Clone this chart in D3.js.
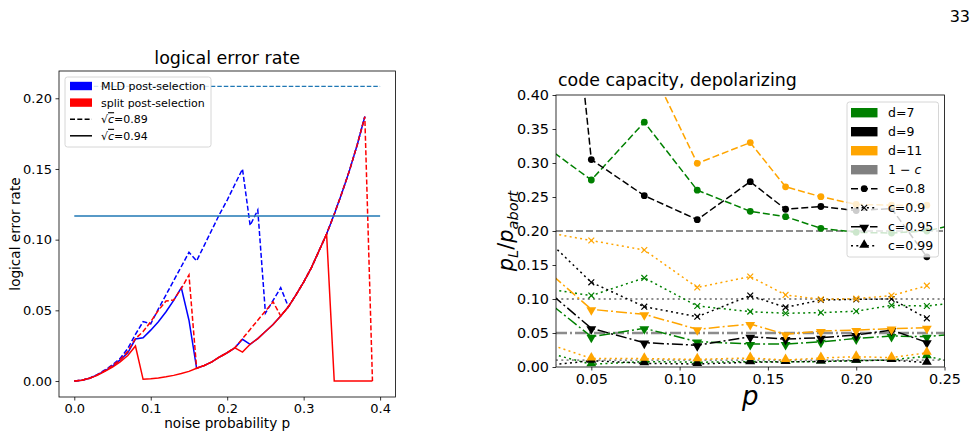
<!DOCTYPE html>
<html>
<head>
<meta charset="utf-8">
<script src="https://cdn.jsdelivr.net/npm/d3@7"></script>
<style>
  body { margin: 0; background: #fff; }
  svg text { font-family: "DejaVu Sans", sans-serif; fill: #000; }
</style>
</head>
<body>
<svg id="fig" width="979" height="439"></svg>
<script>
// ---- left panel data: logical error rate vs noise probability ----
const pNoise = [0, 0.01, 0.02, 0.03, 0.04, 0.05, 0.06, 0.07, 0.08, 0.09,
  0.10, 0.11, 0.12, 0.13, 0.14, 0.15, 0.16, 0.17, 0.18, 0.19,
  0.20, 0.21, 0.22, 0.23, 0.24, 0.25, 0.26, 0.27, 0.28, 0.29,
  0.30, 0.31, 0.32, 0.33, 0.34, 0.35, 0.36, 0.37, 0.38, 0.39];
const mldSqrtC089 = [0, 0.0005, 0.002, 0.0045, 0.0078, 0.0115, 0.016, 0.023, 0.033, 0.042,
  0.0405, 0.051, 0.061, 0.071, 0.081, 0.091, 0.085, 0.096, 0.107, 0.118,
  0.128, 0.139, 0.150, 0.110, 0.121, 0.048, 0.057, 0.066, 0.0525, 0.061,
  0.070, 0.080, 0.092, 0.104, 0.118, 0.133, 0.149, 0.167, 0.187];
const mldSqrtC094 = [0, 0.0005, 0.002, 0.0043, 0.0072, 0.0105, 0.015, 0.020, 0.0297, 0.0306,
  0.036, 0.042, 0.049, 0.057, 0.066, 0.043, 0.009, 0.011, 0.0135, 0.017,
  0.020, 0.0235, 0.0295, 0.026, 0.030, 0.035, 0.040, 0.046, 0.0525, 0.061,
  0.070, 0.080, 0.092, 0.104, 0.118, 0.133, 0.149, 0.167, 0.187];
const splitSqrtC089 = [0, 0.0005, 0.002, 0.0043, 0.0073, 0.011, 0.015, 0.021, 0.030, 0.035,
  0.042, 0.050, 0.0566, 0.0573, 0.0655, 0.075, 0.009, 0.011, 0.0135, 0.017,
  0.020, 0.0235, 0.030, 0.0365, 0.043, 0.0495, 0.056, 0.046, 0.0525, 0.061,
  0.070, 0.080, 0.092, 0.104, 0.118, 0.133, 0.149, 0.167, 0.187, 0];
const splitSqrtC094 = [0, 0.0005, 0.0019, 0.004, 0.0068, 0.0098, 0.0135, 0.018, 0.0248, 0.0012,
  0.0016, 0.0022, 0.003, 0.004, 0.0053, 0.0068, 0.009, 0.011, 0.0135, 0.017,
  0.020, 0.0235, 0.0205, 0.026, 0.030, 0.035, 0.040, 0.046, 0.0525, 0.061,
  0.070, 0.080, 0.092, 0.104, 0, 0, 0, 0, 0, 0];
const thresholdLevels = [0.2084, 0.1167];
const thresholdSpan = [0, 0.4];
const leftXTicks = [0, 0.1, 0.2, 0.3, 0.4];
const leftYTicks = [0, 0.05, 0.10, 0.15, 0.20];

// ---- right panel data: p_L / p_abort, code capacity ----
const pCode = [0.02, 0.05, 0.08, 0.11, 0.14, 0.16, 0.18, 0.20, 0.22, 0.24, 0.26];
const distLabels = ['d=7', 'd=9', 'd=11'];
const cLabels = ['c=0.8', 'c=0.9', 'c=0.95', 'c=0.99'];
const oneMinusC = [0.2, 0.1, 0.05, 0.01];
const d7c080 = [0.332, 0.275, 0.360, 0.260, 0.229, 0.221, 0.204, 0.198, 0.197, 0.200, 0.212];
const d7c090 = [0.117, 0.105, 0.131, 0.0897, 0.0814, 0.079, 0.080, 0.082, 0.0907, 0.0897, 0.0955];
const d7c095 = [0.107, 0.0446, 0.0569, 0.0373, 0.0338, 0.0338, 0.037, 0.042, 0.0456, 0.0446, 0.0494];
const d7c099 = [0.0244, 0.004, 0.008, 0.007, 0.008, 0.0075, 0.008, 0.0093, 0.0103, 0.016, 0.004];
const d9c080 = [1.054, 0.305, 0.252, 0.2167, 0.2725, 0.232, 0.236, 0.230, 0.233, 0.162, null];
const d9c090 = [0.1995, 0.1245, 0.0887, 0.074, 0.105, 0.0877, 0.0985, 0.0995, 0.100, 0.0716, null];
const d9c095 = [0.123, 0.0569, 0.0358, 0.0319, 0.0446, 0.041, 0.0431, 0.047, 0.0544, 0.0363, null];
const d9c099 = [0.001, 0.0093, 0.0054, 0.0044, 0.007, 0.0075, 0.0083, 0.0093, 0.0103, 0.0064, null];
const d11c080 = [0.62, 0.55, 0.461, 0.2995, 0.330, 0.265, 0.2505, 0.239, 0.238, 0.238, null];
const d11c090 = [0.200, 0.186, 0.172, 0.117, 0.133, 0.106, 0.0995, 0.1005, 0.105, 0.1196, null];
const d11c095 = [0.1526, 0.0848, 0.0775, 0.0554, 0.0632, 0.048, 0.053, 0.0544, 0.0564, 0.0578, null];
const d11c099 = [0.0387, 0.0127, 0.0123, 0.0113, 0.0132, 0.0103, 0.0132, 0.0152, 0.0137, 0.021, null];
const rightXTicks = [0.05, 0.10, 0.15, 0.20, 0.25];
const rightYTicks = [0, 0.05, 0.10, 0.15, 0.20, 0.25, 0.30, 0.35, 0.40];

const svg = d3.select('#fig');
const defs = svg.append('defs');

function styleAxis(g, fontSize) {
  g.select('.domain').remove();
  g.selectAll('.tick line').attr('stroke', '#000').attr('stroke-width', 0.8);
  g.selectAll('.tick text').attr('font-size', fontSize).attr('fill', '#000')
    .attr('font-family', '"DejaVu Sans", sans-serif');
}

// ================= LEFT PANEL =================
const L = { left: 59, right: 395.4, top: 71, bottom: 397 };
const xL = d3.scaleLinear().domain([-0.02, 0.42]).range([L.left, L.right]);
const yL = d3.scaleLinear().domain([-0.0113, 0.2193]).range([L.bottom, L.top]);

defs.append('clipPath').attr('id', 'clipL').append('rect')
  .attr('x', L.left).attr('y', L.top)
  .attr('width', L.right - L.left).attr('height', L.bottom - L.top);

const gL = svg.append('g');
const plotL = gL.append('g').attr('clip-path', 'url(#clipL)');

const lineL = d3.line().x(d => xL(d[0])).y(d => yL(d[1]));
const leftSeries = [
  { vals: mldSqrtC089, color: '#0000ff', dash: '5,2.3' },
  { vals: mldSqrtC094, color: '#0000ff', dash: null },
  { vals: splitSqrtC089, color: '#ff0000', dash: '5,2.3' },
  { vals: splitSqrtC094, color: '#ff0000', dash: null }
];
leftSeries.forEach(s => {
  plotL.append('path')
    .datum(s.vals.map((v, i) => [pNoise[i], v]))
    .attr('d', lineL)
    .attr('fill', 'none')
    .attr('stroke', s.color)
    .attr('stroke-width', 1.5)
    .attr('stroke-dasharray', s.dash);
});

plotL.selectAll('.thr').data(thresholdLevels).enter().append('line')
  .attr('x1', xL(thresholdSpan[0])).attr('x2', xL(thresholdSpan[1]))
  .attr('y1', d => yL(d)).attr('y2', d => yL(d))
  .attr('stroke', '#1f77b4')
  .attr('stroke-width', (d, i) => i === 0 ? 1.2 : 1.5)
  .attr('stroke-dasharray', (d, i) => i === 0 ? '4.5,2' : null);

gL.append('g').attr('transform', `translate(0,${L.bottom})`)
  .call(d3.axisBottom(xL).tickValues(leftXTicks).tickFormat(d3.format('.1f'))
    .tickSizeOuter(0).tickSize(3.5).tickPadding(3.5))
  .call(g => styleAxis(g, 13));
gL.append('g').attr('transform', `translate(${L.left},0)`)
  .call(d3.axisLeft(yL).tickValues(leftYTicks).tickFormat(d3.format('.2f'))
    .tickSizeOuter(0).tickSize(3.5).tickPadding(3.5))
  .call(g => styleAxis(g, 13));

gL.append('rect')
  .attr('x', L.left).attr('y', L.top)
  .attr('width', L.right - L.left).attr('height', L.bottom - L.top)
  .attr('fill', 'none').attr('stroke', '#000').attr('stroke-width', 0.8);

gL.append('text').attr('x', (L.left + L.right) / 2).attr('y', 64)
  .attr('text-anchor', 'middle').attr('font-size', 17.5).text('logical error rate');
gL.append('text').attr('x', (L.left + L.right) / 2).attr('y', 428)
  .attr('text-anchor', 'middle').attr('font-size', 13.6).text('noise probability p');
gL.append('text').attr('transform', `translate(19.5,${(L.top + L.bottom) / 2}) rotate(-90)`)
  .attr('text-anchor', 'middle').attr('font-size', 13.6).text('logical error rate');

// left legend
const legL = gL.append('g');
legL.append('rect').attr('x', 65).attr('y', 77).attr('width', 146).attr('height', 70)
  .attr('rx', 2.5).attr('fill', '#fff').attr('fill-opacity', 0.8)
  .attr('stroke', '#cccccc').attr('stroke-width', 0.8);
const legLItems = [
  { label: 'MLD post-selection', kind: 'patch', color: '#0000ff' },
  { label: 'split post-selection', kind: 'patch', color: '#ff0000' },
  { label: '0.89', kind: 'line', dash: '5,2.3' },
  { label: '0.94', kind: 'line', dash: null }
];
legLItems.forEach((it, i) => {
  const cy = 86 + i * 16.6;
  if (it.kind === 'patch') {
    legL.append('rect').attr('x', 70).attr('y', cy - 4.2).attr('width', 22).attr('height', 8.4)
      .attr('fill', it.color);
    legL.append('text').attr('x', 101).attr('y', cy + 4).attr('font-size', 11).text(it.label);
  } else {
    legL.append('line').attr('x1', 70).attr('x2', 92).attr('y1', cy).attr('y2', cy)
      .attr('stroke', '#000').attr('stroke-width', 1.5).attr('stroke-dasharray', it.dash);
    const t = legL.append('text').attr('x', 101).attr('y', cy + 4).attr('font-size', 11);
    t.append('tspan').text('√');
    t.append('tspan').attr('font-style', 'italic').style('text-decoration', 'overline').text('c');
    t.append('tspan').text('=' + it.label);
  }
});

// ================= RIGHT PANEL =================
const R = { left: 556, right: 944.5, top: 95, bottom: 367 };
const xR = d3.scaleLinear().domain([0.03, 0.25]).range([R.left, R.right]);
const yR = d3.scaleLinear().domain([0, 0.4]).range([R.bottom, R.top]);

defs.append('clipPath').attr('id', 'clipR').append('rect')
  .attr('x', R.left).attr('y', R.top)
  .attr('width', R.right - R.left).attr('height', R.bottom - R.top);

const gR = svg.append('g');
const plotR = gR.append('g').attr('clip-path', 'url(#clipR)');

const distColors = ['#008000', '#000000', '#ffa500'];
const cDash = ['7,3', '2,3.3', '11,3,2,3', '2,3.3'];
const cMarker = ['circle', 'x', 'tridown', 'triup'];
const grayDash = ['7,3', '2,3.3', '11,3,2,3', '2,3.3'];

const rightSeries = [
  [d7c080, d7c090, d7c095, d7c099],
  [d9c080, d9c090, d9c095, d9c099],
  [d11c080, d11c090, d11c095, d11c099]
];

function drawMarker(g, kind, x, y, color) {
  if (kind === 'circle') {
    g.append('circle').attr('cx', x).attr('cy', y).attr('r', 3.4).attr('fill', color);
  } else if (kind === 'x') {
    const h = 2.9;
    g.append('path').attr('d', `M${x - h},${y - h}L${x + h},${y + h}M${x - h},${y + h}L${x + h},${y - h}`)
      .attr('stroke', color).attr('stroke-width', 1.2).attr('fill', 'none');
  } else {
    const sym = d3.symbol().type(d3.symbolTriangle).size(42)();
    g.append('path').attr('d', sym).attr('fill', color)
      .attr('transform', `translate(${x},${y + (kind === 'tridown' ? 0.8 : -0.8)}) rotate(${kind === 'tridown' ? 180 : 0})`);
  }
}

// gray 1-c reference lines
plotR.selectAll('.ref').data(oneMinusC).enter().append('line')
  .attr('x1', R.left).attr('x2', R.right)
  .attr('y1', d => yR(d)).attr('y2', d => yR(d))
  .attr('stroke', '#808080').attr('stroke-opacity', 0.9)
  .attr('stroke-width', (d, i) => i === 2 ? 2.4 : 1.8)
  .attr('stroke-dasharray', (d, i) => grayDash[i]);

const lineR = d3.line().defined(d => d[1] != null).x(d => xR(d[0])).y(d => yR(d[1]));
rightSeries.forEach((group, di) => {
  group.forEach((vals, ci) => {
    const pts = vals.map((v, i) => [pCode[i], v]);
    plotR.append('path').datum(pts).attr('d', lineR)
      .attr('fill', 'none').attr('stroke', distColors[di])
      .attr('stroke-width', 1.5).attr('stroke-dasharray', cDash[ci]);
    const mg = plotR.append('g');
    pts.filter(d => d[1] != null).forEach(d => drawMarker(mg, cMarker[ci], xR(d[0]), yR(d[1]), distColors[di]));
  });
});

gR.append('g').attr('transform', `translate(0,${R.bottom})`)
  .call(d3.axisBottom(xR).tickValues(rightXTicks).tickFormat(d3.format('.2f'))
    .tickSizeOuter(0).tickSize(3.5).tickPadding(3.5))
  .call(g => styleAxis(g, 14.4));
gR.append('g').attr('transform', `translate(${R.left},0)`)
  .call(d3.axisLeft(yR).tickValues(rightYTicks).tickFormat(d3.format('.2f'))
    .tickSizeOuter(0).tickSize(3.5).tickPadding(3.5))
  .call(g => styleAxis(g, 14.4));

gR.append('rect')
  .attr('x', R.left).attr('y', R.top)
  .attr('width', R.right - R.left).attr('height', R.bottom - R.top)
  .attr('fill', 'none').attr('stroke', '#000').attr('stroke-width', 0.8);

gR.append('text').attr('x', 558).attr('y', 85.5).attr('font-size', 17.4)
  .text('code capacity, depolarizing');

gR.append('text').attr('x', (R.left + R.right) / 2).attr('y', 405)
  .attr('text-anchor', 'middle').attr('font-size', 26).attr('font-style', 'italic').text('p');

const ylab = gR.append('text')
  .attr('transform', `translate(513,${(R.top + R.bottom) / 2}) rotate(-90)`)
  .attr('text-anchor', 'middle').attr('font-size', 21);
ylab.append('tspan').attr('font-style', 'italic').text('p');
ylab.append('tspan').attr('font-style', 'italic').attr('font-size', 14.5).attr('dy', 4.5).text('L');
ylab.append('tspan').attr('dy', -4.5).text('/');
ylab.append('tspan').attr('font-style', 'italic').text('p');
ylab.append('tspan').attr('font-style', 'italic').attr('font-size', 14.5).attr('dy', 4.5).text('abort');

// right legend
const legR = gR.append('g');
legR.append('rect').attr('x', 847).attr('y', 102).attr('width', 91.5).attr('height', 155)
  .attr('rx', 2.5).attr('fill', '#fff').attr('fill-opacity', 0.8)
  .attr('stroke', '#cccccc').attr('stroke-width', 0.8);
const patchColors = distColors.concat(['#808080']);
const patchLabels = distLabels.concat(['1 − c']);
patchLabels.forEach((lab, i) => {
  const cy = 112.7 + i * 19;
  legR.append('rect').attr('x', 851).attr('y', cy - 4.7).attr('width', 26.5).attr('height', 9.4)
    .attr('fill', patchColors[i]);
  const t = legR.append('text').attr('x', 888).attr('y', cy + 4.5).attr('font-size', 12.5);
  if (i === 3) {
    t.append('tspan').text('1 − ');
    t.append('tspan').attr('font-style', 'italic').text('c');
  } else {
    t.text(lab);
  }
});
cLabels.forEach((lab, i) => {
  const cy = 112.7 + (i + 4) * 19;
  legR.append('line').attr('x1', 851).attr('x2', 877.5).attr('y1', cy).attr('y2', cy)
    .attr('stroke', '#000').attr('stroke-width', 1.5).attr('stroke-dasharray', cDash[i]);
  drawMarker(legR, cMarker[i], 864.2, cy, '#000');
  legR.append('text').attr('x', 888).attr('y', cy + 4.5).attr('font-size', 12.5).text(lab);
});

// page number
svg.append('text').attr('x', 970).attr('y', 22).attr('text-anchor', 'end')
  .attr('font-family', '"Liberation Serif", serif').attr('font-size', 16).text('33');
</script>
</body>
</html>
